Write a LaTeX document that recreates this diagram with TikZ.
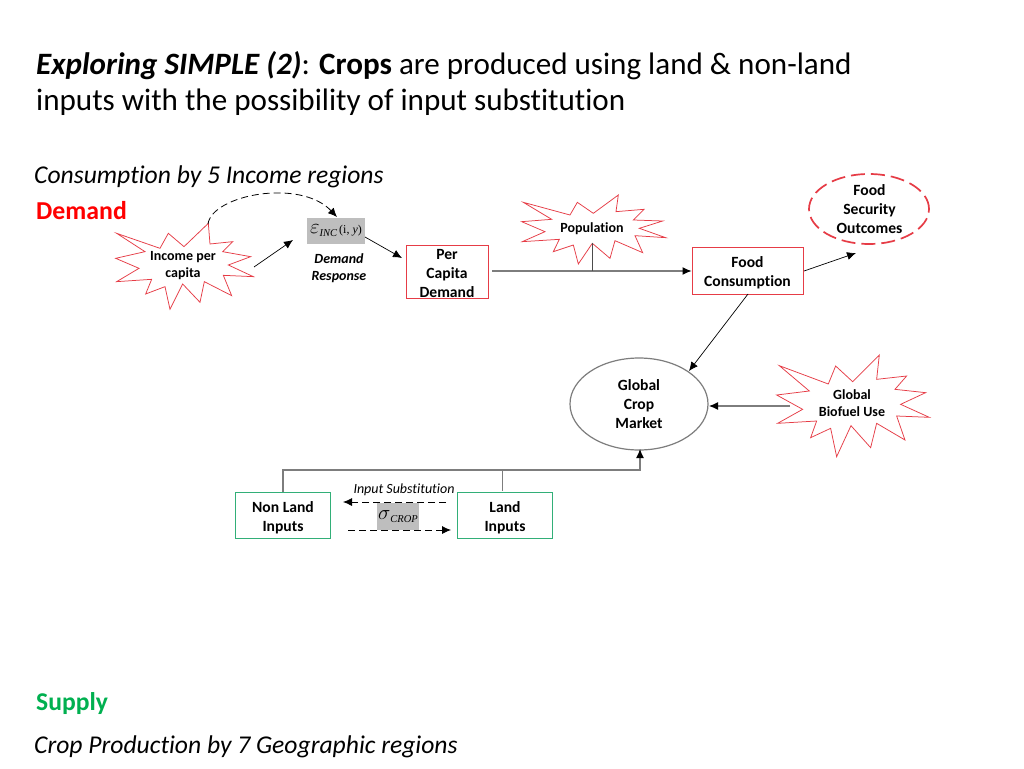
\documentclass[tikz,border=0pt]{standalone}
\usepackage{fontspec}
\setmainfont{Carlito}[Ligatures=CommonOff]
\newfontfamily\timesfont{Liberation Serif}
\usetikzlibrary{arrows.meta,shapes.geometric}
\definecolor{redline}{RGB}{230,60,70}
\definecolor{greenline}{RGB}{50,175,120}
\definecolor{greyfill}{RGB}{190,190,190}
\definecolor{greyline}{RGB}{125,125,125}
\definecolor{supplygreen}{RGB}{0,176,80}
\tikzset{
  x=1pt,y=-1pt,
  starline/.style={draw=redline,line width=0.75pt,line join=miter,fill=white},
  smalllab/.style={font=\fontsize{14}{17}\selectfont\bfseries,align=center,text=black,inner sep=0pt},
  boxtext/.style={font=\fontsize{15.6}{19}\selectfont\bfseries,align=center,text=black,inner sep=0pt},
  redbox/.style={draw=redline,line width=1pt,fill=white,inner sep=0pt},
  greenbox/.style={draw=greenline,line width=1pt,fill=white,inner sep=0pt},
  greybox/.style={fill=greyfill,inner sep=0pt},
  conn/.style={draw=black,line width=0.7pt,-{Latex[length=9pt,width=8pt]}},
  plainconn/.style={draw=black!70,line width=0.8pt},
  greyconn/.style={draw=greyline,line width=1pt},
  greyarrow/.style={draw=greyline,line width=1.1pt,-{Latex[length=9pt,width=8pt,color=black]}},
  dashconn/.style={draw=black,line width=0.8pt,dash pattern=on 7pt off 4pt,-{Latex[length=9pt,width=8pt]}},
  zoomed/.style={x=0.3333pt,y=-0.3333pt},
  heading/.style={anchor=west,inner sep=0pt,font=\fontsize{31.1}{36}\selectfont},
  sub/.style={anchor=west,inner sep=0pt,font=\fontsize{25.6}{28}\selectfont\itshape},
}
\begin{document}
\begin{tikzpicture}
\useasboundingbox (0,0) rectangle (1024,768);
\fill[white] (0,0) rectangle (1024,768);
% headings
\node[heading] (t1) at (36,65.5) {\textbf{\textit{Exploring SIMPLE (2)}}: \textbf{Crops} are produced using land \& non-land};
\node[heading] (t2) at (36,102.5) {inputs with the possibility of input substitution};
\node[sub] (cons) at (34,177) {Consumption by 5 Income regions};
\node[anchor=west,inner sep=0pt,font=\fontsize{25.8}{28}\selectfont\bfseries,text=red] (dem) at (36,211) {Demand};
\node[anchor=west,inner sep=0pt,font=\fontsize{25.6}{28}\selectfont\bfseries,text=supplygreen] (sup) at (36,704) {Supply};
\node[sub] (prod) at (34,747) {Crop Production by 7 Geographic regions};
% stars
\begin{scope}[shift={(100,170)},zoomed]
\draw[starline] (325,160)--(330,222)--(398,215)--(368,245)--(452,260)--(385,285)--(460,320)--(370,316)--(395,377)--(313,335)--(300,397)--(248,342)--(210,418)--(195,350)--(137,372)--(155,328)--(50,335)--(117,295)--(47,265)--(135,245)--(50,190)--(180,235)--(205,190)--(252,230)--cycle;
\end{scope}
\begin{scope}[shift={(500,170)},zoomed]
\draw[starline] (355,75)--(348,125)--(432,118)--(400,150)--(488,153)--(418,175)--(497,203)--(405,197)--(428,248)--(345,212)--(330,265)--(277,220)--(235,282)--(220,225)--(160,245)--(178,208)--(67,215)--(135,185)--(65,155)--(155,148)--(70,97)--(210,135)--(232,97)--(280,130)--cycle;
\end{scope}
\begin{scope}[shift={(560,340)},zoomed]
\draw[starline] (958,45)--(950,118)--(1040,108)--(1005,148)--(1097,158)--(1022,193)--(1108,232)--(1010,228)--(1035,300)--(950,250)--(932,323)--(873,257)--(830,350)--(812,265)--(752,293)--(770,243)--(653,250)--(728,208)--(650,165)--(748,153)--(658,77)--(805,132)--(827,78)--(878,125)--cycle;
\end{scope}
\node[smalllab] (income) at (183,266) {Income per\\capita};
\node[smalllab] (pop) at (592,229) {Population};
\node[smalllab] (biofuel) at (852,403) {Global\\Biofuel Use};
% boxes
\node[greybox,minimum width=58pt,minimum height=26pt] (eps) at (336,231) {\fontsize{21}{20}\selectfont$\varepsilon$\raisebox{-3pt}{\timesfont\itshape\fontsize{10.5}{12}\selectfont INC}\hspace{2pt}\raisebox{0.5pt}{\timesfont\fontsize{12}{12}\selectfont (i, \textit{y})}};
\node[font=\fontsize{14}{17}\selectfont\bfseries\itshape,align=center,inner sep=0pt] (resp) at (339,268) {Demand\\Response};
\node[redbox,minimum width=82pt,minimum height=53pt] (pc) at (447,271.5) {};
\node[boxtext] (pct) at (447,273) {Per\\Capita\\Demand};
\node[redbox,minimum width=111pt,minimum height=47pt] (fc) at (747.5,271) {};
\node[boxtext] (fct) at (747.5,273) {Food\\Consumption};
\node[draw=redline,line width=1.7pt,dash pattern=on 14pt off 6pt,ellipse,minimum width=120pt,minimum height=70pt,inner sep=0pt] (fs) at (869,209) {};
\node[boxtext] (fst) at (869.5,209.5) {Food\\Security\\Outcomes};
\node[draw=greyline,line width=1.2pt,ellipse,minimum width=138pt,minimum height=92pt,inner sep=0pt,boxtext] (mkt) at (639,404) {Global\\Crop\\Market};
\node[greenbox,minimum width=95pt,minimum height=46pt] (nl) at (283,515) {};
\node[boxtext] (nlt) at (283,518) {Non Land\\Inputs};
\node[greenbox,minimum width=95pt,minimum height=46pt] (ld) at (504.5,515) {};
\node[boxtext] (ldt) at (505,518) {Land\\Inputs};
\node[greybox,minimum width=42pt,minimum height=27pt] (sig) at (398,516.5) {\fontsize{21}{20}\selectfont$\sigma$\raisebox{-3pt}{\timesfont\itshape\fontsize{10.5}{12}\selectfont CROP}};
\node[font=\fontsize{14}{15}\selectfont\itshape,inner sep=0pt] (subst) at (404,489.5) {Input Substitution};
% free-end coordinates
\coordinate (a1) at (208,224);
\coordinate (a2) at (337,217);
\coordinate (a3) at (254,267);
\coordinate (a4) at (293,240);
\coordinate (a5) at (365,237);
\coordinate (a6) at (402,258);
\coordinate (a7) at (804,271);
\coordinate (a8) at (856,253);
\coordinate (a9) at (748,294);
\coordinate (a10) at (689,371);
\coordinate (a11) at (790,406);
\coordinate (a12) at (592,243);
\coordinate (a13) at (592,271);
\coordinate (a14) at (283,470);
\coordinate (a15) at (502,470);
\coordinate (a16) at (640,470);
\coordinate (a17) at (446,502);
\coordinate (a18) at (343,502);
\coordinate (a19) at (348,530);
\coordinate (a20) at (451,530);
\coordinate (a21) at (492,271);
\coordinate (a22) at (640,449);
\coordinate (a23) at (709,406);
\coordinate (a24) at (502,491);
% connectors
\draw[dashconn] (a1) .. controls (212,195) and (300,178) .. (a2);
\draw[conn] (a3) -- (a4);
\draw[conn] (a5) -- (a6);
\draw[greyarrow] (a21) -- (fc.west);
\draw[plainconn] (a12) -- (a13);
\draw[conn] (a7) -- (a8);
\draw[conn] (a9) -- (a10);
\draw[greyarrow] (a11) -- (a23);
\draw[greyarrow] (nl.north) -- (a14) -- (a16) -- (a22);
\draw[greyconn] (a15) -- (a24);
\draw[dashconn] (a17) -- (a18);
\draw[dashconn] (a19) -- (a20);
\end{tikzpicture}
\end{document}
